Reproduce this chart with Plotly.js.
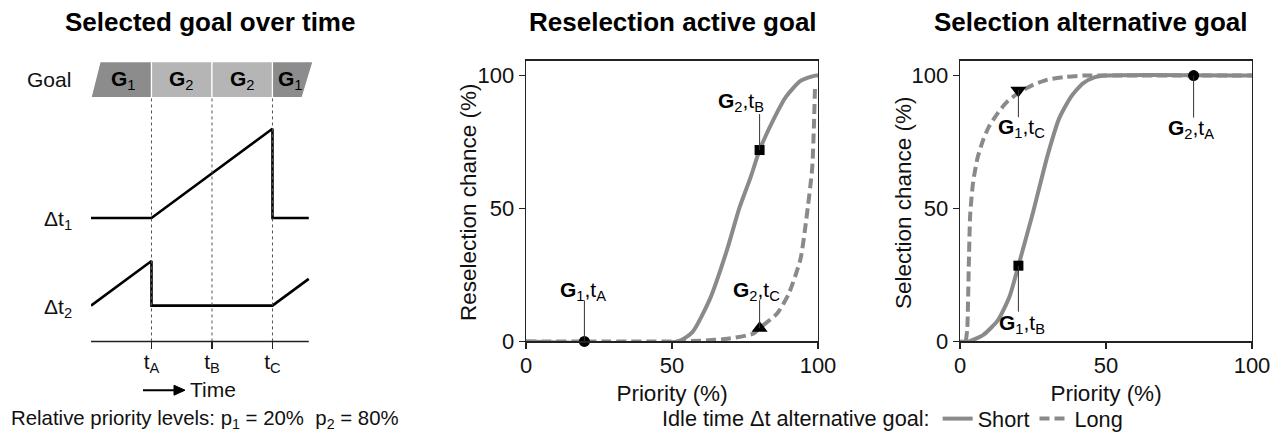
<!DOCTYPE html>
<html><head><meta charset="utf-8">
<script src="https://cdn.plot.ly/plotly-3.0.1.min.js"></script>
<style>html,body{margin:0;padding:0;background:#fff}#chart{width:1285px;height:440px}</style>
</head><body><div id="chart"></div>
<script>
// ---------- data ----------
// Left panel: selected goal over time
const goalIndex = [1, 2, 2, 1];
const goalStart = [0, 1, 2, 3];
const goalEnd = [1, 2, 3, 3.6];
const timeTicks = [1, 2, 3];
const timeTickText = ['t<sub>A</sub>', 't<sub>B</sub>', 't<sub>C</sub>'];
const dt1Time = [0, 1, 3, 3, 3.6];
const dt1Idle = [0, 0, 2, 0, 0];
const dt2Time = [0, 1, 1, 3, 3.6];
const dt2Idle = [0, 1, 0, 0, 0.6];
const priorityLevels = [20, 80];

// Middle panel: reselection chance of the active goal
const reselShortP = [0, 52, 57, 63, 69, 73, 77, 80, 85, 89, 94, 99, 100];
const reselShortV = [0, 0, 3.5, 16, 35, 50, 62, 72, 84, 92, 98, 100, 100];
const reselLongP = [0, 53, 60, 69, 78, 80, 86, 90, 94, 96, 98, 98.6, 99];
const reselLongV = [0, 0, 0.3, 1, 3, 5, 10.5, 18, 31, 46, 65, 81, 97];
const reselMarkP = [20, 80, 80];
const reselMarkV = [0, 72, 5];
const reselMarkSym = ['circle', 'square', 'triangle-up'];
const reselMarkLabel = ['<b>G</b><sub>1</sub>,t<sub>A</sub>', '<b>G</b><sub>2</sub>,t<sub>B</sub>', '<b>G</b><sub>2</sub>,t<sub>C</sub>'];

// Right panel: selection chance of the alternative goal
const selShortP = [0, 3, 8, 13, 17, 20, 25, 30, 34, 38, 42, 46, 50, 100];
const selShortV = [0, 0, 2.5, 8, 17, 28.5, 48.5, 70, 84, 92, 97, 99.3, 100, 100];
const selLongP = [2, 2.5, 3, 3.5, 4.5, 6, 8, 10, 13, 16, 20, 25, 30, 36, 42, 50, 100];
const selLongV = [0, 5, 28, 48, 60, 69, 76, 81, 86, 90, 93.5, 96.5, 98.5, 99.5, 100, 100, 100];
const selMarkP = [20, 20, 80];
const selMarkV = [28.5, 94.5, 100];
const selMarkSym = ['square', 'triangle-down', 'circle'];
const selMarkLabel = ['<b>G</b><sub>1</sub>,t<sub>B</sub>', '<b>G</b><sub>1</sub>,t<sub>C</sub>', '<b>G</b><sub>2</sub>,t<sub>A</sub>'];

const priorityTicks = [0, 50, 100];

// ---------- helpers / styles ----------
const W = 1285, H = 440;
const px = v => v / W;
const py = v => 1 - v / H;
const FONT = 'Liberation Sans, Arial, Helvetica, sans-serif';
const CURVE = '#8a8a8a';
const DASH = '10px,5px';
const goalColor = {1: '#8c8c8c', 2: '#b5b5b5'};
const DT_UNIT = 44.8; // px per idle-time unit
const symSize = {'circle': 11, 'square': 10, 'triangle-up': 14, 'triangle-down': 14};

const traces = [];
traces.push({x: dt1Time, y: dt1Idle, xaxis: 'x', yaxis: 'y', mode: 'lines', line: {color: '#000', width: 2.6}, showlegend: false, hoverinfo: 'skip'});
traces.push({x: dt2Time, y: dt2Idle, xaxis: 'x', yaxis: 'y4', mode: 'lines', line: {color: '#000', width: 2.6}, showlegend: false, hoverinfo: 'skip'});
traces.push({x: reselShortP, y: reselShortV, xaxis: 'x2', yaxis: 'y2', mode: 'lines', name: 'Short', line: {color: CURVE, width: 4, shape: 'spline', smoothing: 0.6}, showlegend: true});
traces.push({x: reselLongP, y: reselLongV, xaxis: 'x2', yaxis: 'y2', mode: 'lines', name: 'Long', line: {color: CURVE, width: 4, dash: DASH, shape: 'spline', smoothing: 0.6}, showlegend: true});
traces.push({x: selLongP, y: selLongV, xaxis: 'x3', yaxis: 'y3', mode: 'lines', name: 'Long', line: {color: CURVE, width: 4, dash: DASH, shape: 'spline', smoothing: 0.6}, showlegend: false});
traces.push({x: selShortP, y: selShortV, xaxis: 'x3', yaxis: 'y3', mode: 'lines', name: 'Short', line: {color: CURVE, width: 4, shape: 'spline', smoothing: 0.6}, showlegend: false});
traces.push({x: reselMarkP, y: reselMarkV, xaxis: 'x2', yaxis: 'y2', mode: 'markers', marker: {color: '#000', opacity: 1, line: {width: 0}, size: reselMarkSym.map(s => symSize[s]), symbol: reselMarkSym}, showlegend: false, cliponaxis: false});
traces.push({x: selMarkP, y: selMarkV, xaxis: 'x3', yaxis: 'y3', mode: 'markers', marker: {color: '#000', opacity: 1, line: {width: 0}, size: selMarkSym.map(s => symSize[s]), symbol: selMarkSym}, showlegend: false, cliponaxis: false});

const shapes = [];
const annotations = [];
// goal bar
const barBot = py(98), barTop = py(62);
goalIndex.forEach((g, i) => {
  let lb = goalStart[i], lt = goalStart[i], rb = goalEnd[i], rt = goalEnd[i];
  if (i === 0) { lt = goalStart[i] + 0.15; }
  if (i === goalIndex.length - 1) { rb = goalEnd[i] - 0.11; rt = goalEnd[i] + 0.07; }
  shapes.push({type: 'path', xref: 'x', yref: 'paper',
    path: `M ${lb},${barBot} L ${lt},${barTop} L ${rt},${barTop} L ${rb},${barBot} Z`,
    fillcolor: goalColor[g], line: {color: '#ffffff', width: 1.2}, layer: 'below'});
  const cx = ((lb + lt) / 2 + (rb + rt) / 2) / 2;
  annotations.push({xref: 'x', yref: 'paper', x: cx, y: py(80), text: `<b>G</b><sub>${g}</sub>`, showarrow: false, font: {size: 21, color: '#000'}, xanchor: 'center', yanchor: 'middle'});
});
// dotted time guides
timeTicks.forEach(t => {
  shapes.push({type: 'line', xref: 'x', yref: 'paper', x0: t, x1: t, y0: py(343), y1: barBot, line: {color: '#555', width: 1, dash: 'dot'}});
});
// time axis line
shapes.push({type: 'line', xref: 'x', yref: 'paper', x0: dt1Time[0], x1: dt1Time[dt1Time.length - 1], y0: py(343), y1: py(343), line: {color: '#222', width: 1.5}});
// time arrow
shapes.push({type: 'line', xref: 'paper', yref: 'paper', x0: px(143), x1: px(177), y0: py(392), y1: py(392), line: {color: '#000', width: 2}});
shapes.push({type: 'path', xref: 'paper', yref: 'paper', path: `M ${px(174)},${py(387)} L ${px(185)},${py(392)} L ${px(174)},${py(397)} Z`, fillcolor: '#000', line: {color: '#000', width: 1}});
annotations.push({xref: 'paper', yref: 'paper', x: px(188), y: py(391), text: 'Time', showarrow: false, font: {size: 21}, xanchor: 'left', yanchor: 'middle'});

// leader lines and labels
function addLabel(xref, yref, x, y, text, lineLen, dx, dy) {
  shapes.push({type: 'line', xref, yref, x0: x, x1: x, ysizemode: 'pixel', yanchor: y, y0: 0, y1: lineLen, line: {color: '#333', width: 1}});
  annotations.push({xref, yref, x, y, text, showarrow: false, xshift: dx, yshift: dy, font: {size: 21, color: '#000'}, xanchor: 'center', yanchor: 'middle'});
}
const reselLine = [41, 36, 28];
const reselDx = [-1, -19, -3];
const reselDy = [50, 48, 37];
reselMarkP.forEach((p, i) => addLabel('x2', 'y2', p, reselMarkV[i], reselMarkLabel[i], reselLine[i], reselDx[i], reselDy[i]));
const selLine = [-46, -27, -42];
const selDx = [4, 3, -3];
const selDy = [-58, -38, -53];
selMarkP.forEach((p, i) => addLabel('x3', 'y3', p, selMarkV[i], selMarkLabel[i], selLine[i], selDx[i], selDy[i]));

// titles
const titles = [['Selected goal over time', 210], ['Reselection active goal', 673], ['Selection alternative goal', 1091]];
titles.forEach(([t, x]) => annotations.push({xref: 'paper', yref: 'paper', x: px(x), y: py(22), text: `<b>${t}</b>`, showarrow: false, font: {size: 26, color: '#000'}, xanchor: 'center', yanchor: 'middle'}));

// y-axis titles
const yTitles = [['Reselection chance (%)', 468], ['Selection chance (%)', 903]];
yTitles.forEach(([t, x]) => annotations.push({xref: 'paper', yref: 'paper', x: px(x), y: py(203), text: t, textangle: -90, showarrow: false, font: {size: 22.5, color: '#111'}, xanchor: 'center', yanchor: 'middle'}));

// left labels
annotations.push({xref: 'paper', yref: 'paper', x: px(73), y: py(80), text: 'Goal', showarrow: false, font: {size: 21}, xanchor: 'right', yanchor: 'middle'});
annotations.push({xref: 'paper', yref: 'paper', x: px(74), y: py(221), text: 'Δt<sub>1</sub>', showarrow: false, font: {size: 21}, xanchor: 'right', yanchor: 'middle'});
annotations.push({xref: 'paper', yref: 'paper', x: px(74), y: py(309), text: 'Δt<sub>2</sub>', showarrow: false, font: {size: 21}, xanchor: 'right', yanchor: 'middle'});
// bottom note
annotations.push({xref: 'paper', yref: 'paper', x: px(9), y: py(421), text: `Relative priority levels: p<sub>1</sub> = ${priorityLevels[0]}%\u00a0\u00a0p<sub>2</sub> = ${priorityLevels[1]}%`, showarrow: false, font: {size: 20.4}, xanchor: 'left', yanchor: 'middle'});

const boxAxis = {showline: true, mirror: true, linecolor: '#222', linewidth: 1.3, ticks: 'outside', ticklen: 6, tickcolor: '#222', tickwidth: 1.3,
  tickvals: priorityTicks, tickfont: {size: 22, color: '#111'}, showgrid: false, zeroline: false, automargin: false, fixedrange: true};
const xTitle = {text: 'Priority (%)', font: {size: 22.5}, standoff: 8};

const layout = {
  width: W, height: H, margin: {l: 0, r: 0, t: 0, b: 0},
  paper_bgcolor: '#fff', plot_bgcolor: 'rgba(0,0,0,0)',
  font: {family: FONT, color: '#111', size: 20},
  xaxis: {domain: [px(91), px(313)], range: [0, 3.67], anchor: 'free', position: py(343), showline: false, showgrid: false, zeroline: false,
    ticks: 'outside', ticklen: 7, tickwidth: 1.3, tickcolor: '#222', tickvals: timeTicks, ticktext: timeTickText, tickfont: {size: 21, color: '#111'},
    ticklabelstandoff: -6, automargin: false, fixedrange: true},
  yaxis: {domain: [py(219 + 0.3 * DT_UNIT), py(219 - 2.2 * DT_UNIT)], range: [-0.3, 2.2], anchor: 'x', visible: false, fixedrange: true},
  yaxis4: {domain: [py(307 + 0.3 * DT_UNIT), py(307 - 1.2 * DT_UNIT)], range: [-0.3, 1.2], anchor: 'x', visible: false, fixedrange: true},
  xaxis2: Object.assign({}, boxAxis, {domain: [px(526), px(818)], range: [0, 100], anchor: 'y2', ticklabelstandoff: -2, title: xTitle}),
  yaxis2: Object.assign({}, boxAxis, {domain: [py(343), py(61)], range: [0, 105.6], anchor: 'x2'}),
  xaxis3: Object.assign({}, boxAxis, {domain: [px(960), px(1252)], range: [0, 100], anchor: 'y3', ticklabelstandoff: -2, title: xTitle}),
  yaxis3: Object.assign({}, boxAxis, {domain: [py(343), py(61)], range: [0, 105.6], anchor: 'x3'}),
  showlegend: true,
  legend: {orientation: 'h', x: px(660), y: py(421), xanchor: 'left', yanchor: 'middle', font: {size: 21.7, color: '#111'},
    title: {text: 'Idle time Δt alternative goal:', side: 'left', font: {size: 21.7, color: '#111'}}, itemwidth: 30, bgcolor: 'rgba(0,0,0,0)', traceorder: 'normal'},
  shapes, annotations
};

Plotly.newPlot('chart', traces, layout, {displayModeBar: false, staticPlot: true});
</script></body></html>
